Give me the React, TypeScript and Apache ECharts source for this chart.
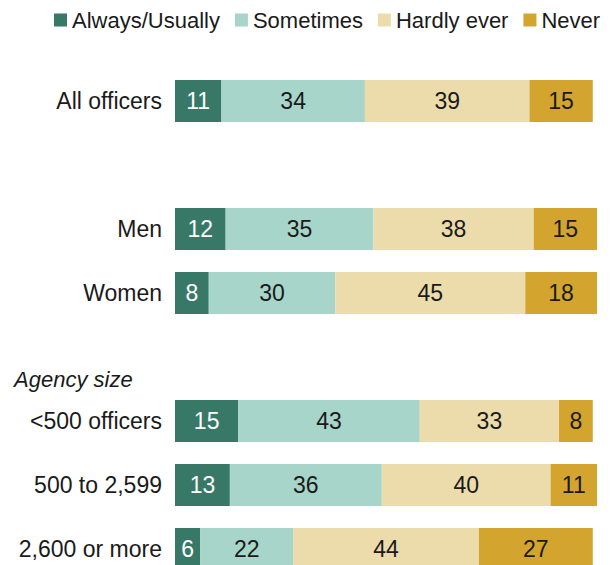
import React, { useEffect, useRef } from "react";
import * as echarts from "echarts";

const categories = ["All officers", "", "Men", "Women", "", "<500 officers", "500 to 2,599", "2,600 or more"];
const seriesNames = ["Always/Usually", "Sometimes", "Hardly ever", "Never"];
const alwaysUsually = [11, null, 12, 8, null, 15, 13, 6];
const sometimes = [34, null, 35, 30, null, 43, 36, 22];
const hardlyEver = [39, null, 38, 45, null, 33, 40, 44];
const never = [15, null, 15, 18, null, 8, 11, 27];
const colors = ["#387867", "#a7d5c9", "#ecdcab", "#d3a52f"];
const labelColors = ["#ffffff", "#1a1a1a", "#1a1a1a", "#1a1a1a"];

export default function App() {
  const ref = useRef<HTMLDivElement>(null);
  useEffect(() => {
    if (!ref.current) return;
    const chart = echarts.init(ref.current, null, { renderer: "svg" });
    const values = [alwaysUsually, sometimes, hardlyEver, never];
    const font = "'Liberation Sans', Arial, sans-serif";
    chart.setOption({
      animation: false,
      textStyle: { fontFamily: font },
      legend: {
        left: 49,
        top: 4,
        itemWidth: 13,
        itemHeight: 13,
        itemGap: 15,
        icon: "rect",
        textStyle: { fontSize: 22, color: "#1a1a1a", fontFamily: font },
        data: seriesNames,
      },
      grid: { left: 175, top: 69, width: 422, height: 512, containLabel: false },
      xAxis: { type: "value", min: 0, max: 100, show: false },
      yAxis: {
        type: "category",
        inverse: true,
        data: categories,
        axisLine: { show: false },
        axisTick: { show: false },
        axisLabel: { fontSize: 23, color: "#1a1a1a", margin: 13, fontFamily: font },
      },
      graphic: [
        {
          type: "text",
          left: 14,
          top: 368,
          style: { text: "Agency size", fontSize: 22, fontStyle: "italic", fill: "#1a1a1a", fontFamily: font },
        },
      ],
      series: seriesNames.map((name, i) => ({
        name,
        type: "bar",
        stack: "total",
        barWidth: 42,
        itemStyle: { color: colors[i] },
        label: {
          show: true,
          position: "inside",
          fontSize: 23,
          color: labelColors[i],
          fontFamily: font,
          formatter: (p: any) => (p.value == null ? "" : String(p.value)),
        },
        data: values[i],
      })),
    });
    return () => chart.dispose();
  }, []);
  return (
    <div style={{ position: "fixed", left: 0, top: 0, width: 613, height: 565, overflow: "hidden", background: "#fff" }}>
      <div ref={ref} style={{ width: 613, height: 600 }} />
    </div>
  );
}
